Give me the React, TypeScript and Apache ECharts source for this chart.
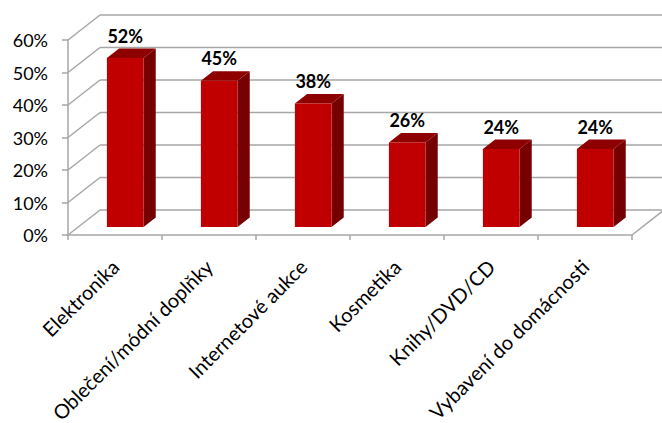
import React, { useEffect, useRef } from "react";
import * as echarts from "echarts";

const categories = [
  "Elektronika",
  "Oblečení/módní doplňky",
  "Internetové aukce",
  "Kosmetika",
  "Knihy/DVD/CD",
  "Vybavení do domácnosti",
];
const values = [52, 45, 38, 26, 24, 24];
const yTicks = [0, 10, 20, 30, 40, 50, 60];

const DX = 32;
const DY = -25;
const BAR_NEAR = 0.32;
const BAR_FAR = 0.7;
const GRID_COLOR = "#A6A6A6";

export default function App() {
  const ref = useRef<HTMLDivElement>(null);
  useEffect(() => {
    const chart = echarts.init(ref.current!, null, { renderer: "svg" });
    const wallStyle = { stroke: GRID_COLOR, lineWidth: 1.5, fill: "none" };
    chart.setOption({
      animation: false,
      backgroundColor: "#ffffff",
      textStyle: { fontFamily: "Lato" },
      grid: {
        left: 68,
        right: 30,
        top: 40,
        bottom: 188,
        containLabel: false,
        outerBoundsMode: "none",
      },
      xAxis: {
        type: "category",
        data: categories,
        axisLine: { show: true, lineStyle: { color: GRID_COLOR, width: 1.5 } },
        axisTick: { show: true, length: 5, interval: 0, lineStyle: { color: GRID_COLOR, width: 1.5 } },
        axisLabel: {
          interval: 0,
          rotate: 45,
          fontSize: 20,
          color: "#000",
          margin: 28,
          fontFamily: "Lato",
        },
        splitLine: { show: false },
      },
      yAxis: {
        type: "value",
        min: 0,
        max: 60,
        interval: 10,
        axisLine: { show: true, lineStyle: { color: GRID_COLOR, width: 1.5 } },
        axisTick: { show: true, length: 6, lineStyle: { color: GRID_COLOR, width: 1.5 } },
        axisLabel: {
          formatter: "{value}%",
          fontSize: 18,
          color: "#000",
          margin: 20,
          fontFamily: "Lato",
        },
        splitLine: { show: false },
      },
      series: [
        {
          type: "custom",
          silent: true,
          z: 1,
          data: yTicks.map((v) => [0, v]),
          renderItem: (params: any, api: any) => {
            const v = api.value(1);
            const bw = api.size([1, 0])[0];
            const p0 = api.coord([0, v]);
            const p1 = api.coord([categories.length - 1, v]);
            const x0 = p0[0] - bw / 2;
            const x1 = p1[0] + bw / 2;
            const y = p0[1];
            const children: any[] = [
              { type: "line", shape: { x1: x0, y1: y, x2: x0 + DX, y2: y + DY }, style: wallStyle },
              { type: "line", shape: { x1: x0 + DX, y1: y + DY, x2: x1 + DX, y2: y + DY }, style: wallStyle },
            ];
            if (v === 0) {
              children.push({ type: "line", shape: { x1: x1, y1: y, x2: x1 + DX, y2: y + DY }, style: wallStyle });
            }
            return { type: "group", children };
          },
        },
        {
          type: "custom",
          z: 3,
          data: values.map((v, i) => [i, v]),
          renderItem: (params: any, api: any) => {
            const i = api.value(0);
            const v = api.value(1);
            const bw = api.size([1, 0])[0];
            const c = api.coord([i, v]);
            const b = api.coord([i, 0]);
            const w = bw * 0.39;
            const nx = BAR_NEAR * DX;
            const ny = BAR_NEAR * DY;
            const ddx = (BAR_FAR - BAR_NEAR) * DX;
            const ddy = (BAR_FAR - BAR_NEAR) * DY;
            const L = c[0] - w / 2 + nx;
            const R = L + w;
            const T = c[1] + ny;
            const B = b[1] + ny;
            return {
              type: "group",
              children: [
                {
                  type: "polygon",
                  shape: { points: [[R, T], [R + ddx, T + ddy], [R + ddx, B + ddy], [R, B]] },
                  style: { fill: "#760000" },
                },
                {
                  type: "polygon",
                  shape: { points: [[L, T], [R, T], [R + ddx, T + ddy], [L + ddx, T + ddy]] },
                  style: { fill: "#8E0000" },
                },
                {
                  type: "rect",
                  shape: { x: L, y: T, width: w, height: B - T },
                  style: { fill: "#C00000" },
                },
                {
                  type: "text",
                  x: (L + R) / 2,
                  y: T + ddy - 13,
                  style: {
                    text: v + "%",
                    fill: "#000",
                    font: "bold 18px Lato",
                    align: "center",
                    verticalAlign: "middle",
                  },
                },
              ],
            };
          },
        },
      ],
    });
    return () => chart.dispose();
  }, []);
  return <div ref={ref} style={{ position: "fixed", left: 0, top: 0, width: 662, height: 423 }} />;
}
